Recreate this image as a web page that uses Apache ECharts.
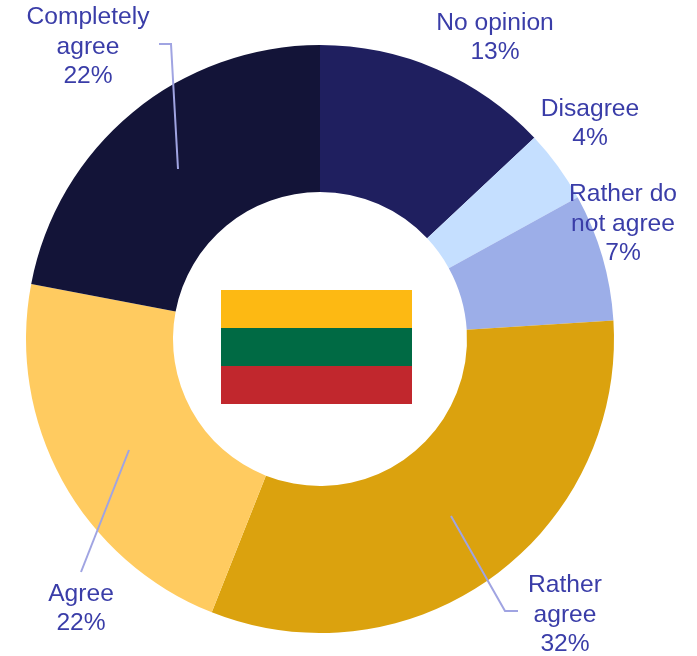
<!DOCTYPE html>
<html>
<head>
<meta charset="utf-8">
<style>html,body{margin:0;padding:0;background:#fff}#chart{width:697px;height:656px}</style>
<script src="https://cdn.jsdelivr.net/npm/echarts@6/dist/echarts.min.js"></script>
</head>
<body>
<div id="chart"></div>
<script>
// Survey answers, clockwise from twelve o'clock
const answers = ['No opinion', 'Disagree', 'Rather do\nnot agree', 'Rather\nagree', 'Agree', 'Completely\nagree'];
const shares = [13, 4, 7, 32, 22, 22];
const sliceColors = ['#1F1F5F', '#C5DFFF', '#9CAEE8', '#DBA20E', '#FFCB60', '#131438'];

// Label centres, in page pixels
const labelCentres = [[495, 38], [590, 124], [623, 224], [565, 615], [81, 609], [88, 47]];

// Leader lines run across the ring, so they are drawn above the slices
const leaders = [
  [[451, 516], [505, 611], [518, 611]],
  [[129, 450], [81, 572]],
  [[178, 169], [171, 44], [159, 44]]
];

// Lithuanian flag stripes in the hole of the ring
const flagStripes = ['#FDB913', '#006A44', '#C1272D'];
const flagLeft = 221, flagTop = 290, flagWidth = 191, stripeHeight = 38;

const flagRects = flagStripes.map((fill, i) => ({
  type: 'rect',
  silent: true,
  z: 10,
  shape: { x: flagLeft, y: flagTop + i * stripeHeight, width: flagWidth, height: stripeHeight },
  style: { fill }
}));
const leaderLines = leaders.map((points) => ({
  type: 'polyline',
  silent: true,
  z: 10,
  shape: { points },
  style: { fill: null, stroke: '#A0A4E2', lineWidth: 2 }
}));

const chart = echarts.init(document.getElementById('chart'), null, { renderer: 'canvas' });
chart.setOption({
  animation: false,
  backgroundColor: '#fff',
  series: [{
    type: 'pie',
    center: [320, 339],
    radius: [147, 294],
    startAngle: 90,
    avoidLabelOverlap: false,
    emphasis: { disabled: true },
    data: answers.map((name, i) => ({
      name,
      value: shares[i],
      itemStyle: { color: sliceColors[i] }
    })),
    label: {
      show: true,
      position: 'outside',
      formatter: '{b}\n{c}%',
      fontFamily: '"Liberation Sans", Arial, sans-serif',
      fontSize: 24.6,
      lineHeight: 29.4,
      color: '#3A3DA8',
      align: 'center',
      verticalAlign: 'middle'
    },
    labelLine: { show: false },
    labelLayout: (params) => ({
      x: labelCentres[params.dataIndex][0],
      y: labelCentres[params.dataIndex][1],
      align: 'center',
      verticalAlign: 'middle'
    })
  }],
  graphic: flagRects.concat(leaderLines)
});
</script>
</body>
</html>
